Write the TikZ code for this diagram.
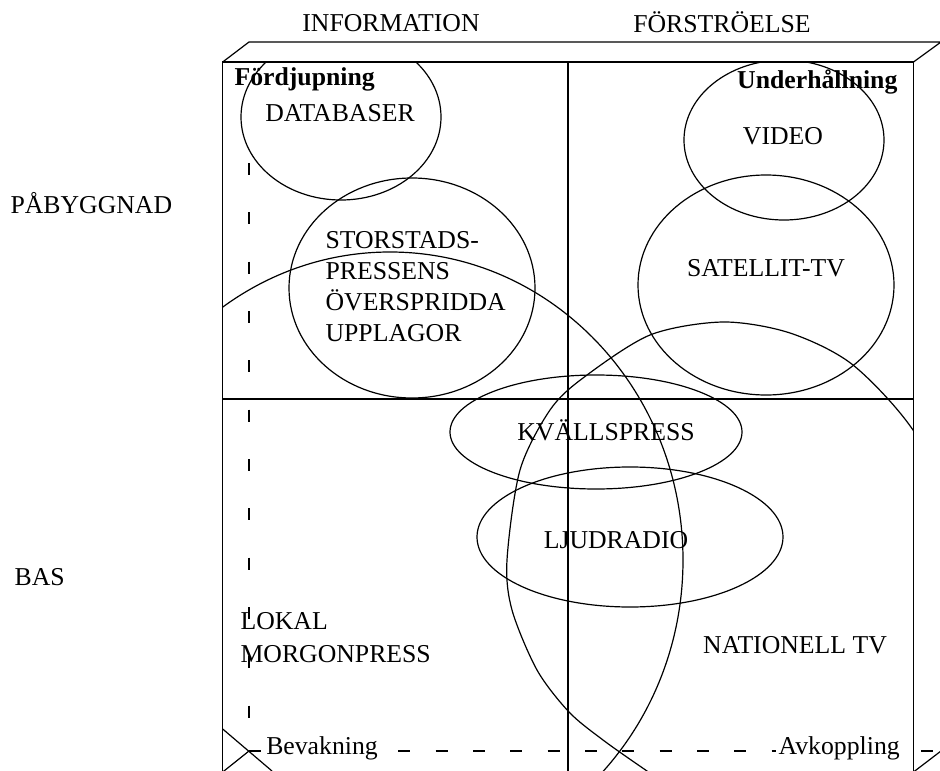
\documentclass[tikz,border=0pt]{standalone}
\usepackage{fontspec}
\setmainfont{Liberation Serif}
\begin{document}
\begin{tikzpicture}[x=0.75pt,y=-0.75pt,line width=0.9pt,
  lbl/.style={font=\fontsize{19.3}{23.5}\selectfont,inner sep=0pt},
  blbl/.style={font=\fontsize{19.3}{23.5}\selectfont\bfseries,inner sep=0pt},
  vhidden/.style={dash pattern=on 9pt off 28pt},
  hhidden/.style={dash pattern=on 9pt off 19pt}]
\useasboundingbox (0,0) rectangle (940,771);
\clip (0,0) rectangle (940,771);
% box: front face, top face, right face
\draw (222.7,775) -- (222.7,62) -- (913.5,62) -- (913.5,775);
\draw (222.7,62) -- (249,42) -- (941,42) -- (913.5,62);
\draw (913.5,772) -- (941,751);
\draw (222.7,772) -- (249,751);
\draw (222.7,729) -- (272,771);
% dividers
\draw (568,62) -- (568,775);
\draw (222.7,399) -- (913.5,399);
% hidden back edges
\draw[vhidden] (249,163) -- (249,751);
\draw[hhidden] (249,751) -- (941,751);
% regions
\begin{scope}
\clip (222.7,62) rectangle (913.5,775);
\draw (341,117) ellipse [x radius=100, y radius=83];
\draw (784,140) ellipse [x radius=100, y radius=80];
\draw (412,288) ellipse [x radius=123, y radius=110];
\draw (766,285) ellipse [x radius=128, y radius=110];
\draw (596,432) ellipse [x radius=146, y radius=57];
\draw (630,537) ellipse [x radius=153, y radius=70];
\draw (390,560) ellipse [x radius=293, y radius=308];
\draw plot[smooth cycle] coordinates {(507,560) (520,470) (550,410) (583,378) (650,335) (723,322) (790,333) (853,365) (915,433) (960,530) (985,650) (960,760) (880,830) (760,830) (690,800) (647,771) (603,740) (569,712) (537,670) (512,610)};
\end{scope}
% labels
\node[lbl] (info) at (391,23) {INFORMATION};
\node[lbl] (forst) at (722,22) {FÖRSTRÖELSE};
\node[lbl,anchor=west] (paby) at (10,203) {PÅBYGGNAD};
\node[lbl,anchor=west] (bas) at (14,577) {BAS};
\node[blbl,anchor=west] (fordj) at (234,79) {Fördjupning};
\node[blbl,anchor=east] (underh) at (898,82) {Underhållning};
\node[lbl] (datab) at (340,113) {DATABASER};
\node[lbl] (video) at (783,136) {VIDEO};
\node[lbl,anchor=west,align=left,font=\fontsize{19.3}{23.25}\selectfont] (stor) at (325,287) {STORSTADS-\\PRESSENS\\ÖVERSPRIDDA\\UPPLAGOR};
\node[lbl] (sat) at (766,268) {SATELLIT-TV};
\node[lbl] (kvall) at (606,430) {KVÄLLSPRESS};
\node[lbl] (ljud) at (616,540) {LJUDRADIO};
\node[lbl,anchor=west,align=left,font=\fontsize{19.3}{24.75}\selectfont] (lokal) at (240,638) {LOKAL\\MORGONPRESS};
\node[lbl] (nat) at (795,645) {NATIONELL TV};
\node[lbl,anchor=base west,fill=white,inner xsep=2pt] (bev) at (263,754) {Bevakning};
\node[lbl,anchor=base east,fill=white,inner xsep=2pt] (avk) at (903,754) {Avkoppling};
\end{tikzpicture}
\end{document}
